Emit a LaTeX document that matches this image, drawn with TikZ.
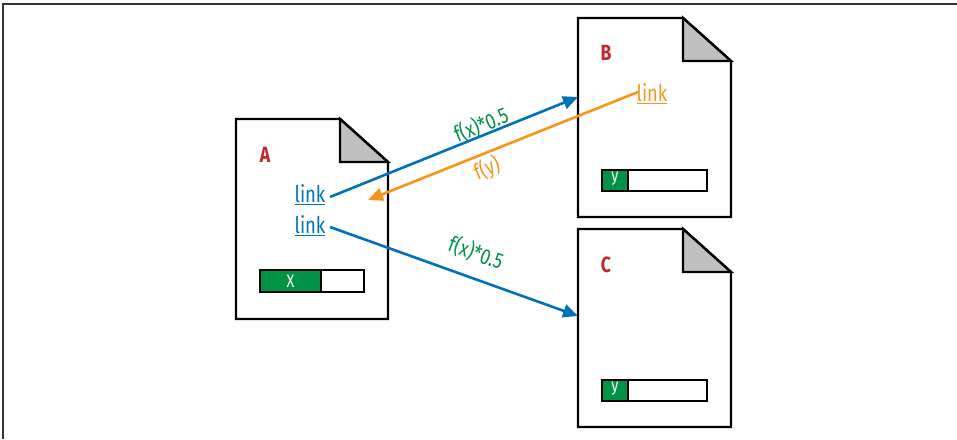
\documentclass[tikz,border=0pt]{standalone}
\usepackage{fontspec}
\setmainfont{Fira Sans}[FakeStretch=0.8]
\usetikzlibrary{arrows.meta}
\definecolor{lblue}{RGB}{0,114,188}
\definecolor{lorange}{RGB}{247,148,29}
\definecolor{lgreen}{RGB}{0,146,69}
\definecolor{lred}{RGB}{193,39,45}
\definecolor{lfold}{RGB}{192,192,192}
\tikzset{
  docline/.style={line width=2.4pt, line join=miter, draw=black},
  doclabel/.style={text=lred, font=\fontsize{22}{22}\selectfont\bfseries},
  linktext/.style={font=\fontsize{23}{23}\selectfont, inner sep=1pt},
  flow/.style={line width=2.6pt, -{Triangle[length=15pt,width=13pt]}},
  flowlabel/.style={font=\fontsize{22}{22}\selectfont, inner sep=1pt},
  barbox/.style={line width=2pt, draw=black, fill=white},
  barfill/.style={line width=2pt, draw=black, fill=lgreen},
  bartext/.style={text=white, font=\fontsize{18}{18}\selectfont, inner sep=0pt},
}
\newcommand\docpage[4]{% left, bottom, right, top
  \filldraw[docline, fill=white] (#1,#2) -- (#1,#4) -- (#3-48,#4) -- (#3,#4-43) -- (#3,#2) -- cycle;
  \filldraw[docline, fill=lfold] (#3-48,#4) -- (#3-48,#4-43) -- (#3,#4-43) -- cycle;
}
\begin{document}
\begin{tikzpicture}[x=1pt,y=1pt]
\useasboundingbox (0,0) rectangle (957,439);
\fill[white] (0,0) rectangle (957,439);
\draw[line width=1.2pt, draw=black!80] (3,0) -- (3,435) -- (957,435);

% documents
\docpage{236}{120}{388}{320}
\docpage{578}{222}{731}{421}
\docpage{578}{12}{731}{210}

\node[doclabel] (la) at (265,284) {A};
\node[doclabel] (lb) at (606,386) {B};
\node[doclabel] (lc) at (606,174) {C};

% progress bars
\filldraw[barbox] (260,147) rectangle (364,169);
\filldraw[barfill] (260,147) rectangle (321,169);
\node[bartext] (bx) at (290.5,158) {X};
\filldraw[barbox] (602,248) rectangle (707,269);
\filldraw[barfill] (602,248) rectangle (628,269);
\node[bartext] (by1) at (615,260) {y};
\filldraw[barbox] (602,38) rectangle (707,59);
\filldraw[barfill] (602,38) rectangle (628,59);
\node[bartext] (by2) at (615,50) {y};

% links
\node[linktext, text=lblue] (linkA1) at (310,244) {\underline{link}};
\node[linktext, text=lblue] (linkA2) at (310,213) {\underline{link}};
\node[linktext, text=lorange] (linkB) at (652,345) {\underline{link}};

\coordinate (a1s) at (330,242);
\coordinate (b1e) at (578,342);
\coordinate (bos) at (638,347);
\coordinate (aoe) at (368,239);
\coordinate (a2s) at (330,212);
\coordinate (c1e) at (578,123);

\draw[flow, lblue] (a1s) -- (b1e);
\draw[flow, lorange] (bos) -- (aoe);
\draw[flow, lblue] (a2s) -- (c1e);

\node[flowlabel, text=lgreen, rotate=22] (f1) at (481,314) {f(x)*0.5};
\node[flowlabel, text=lorange, rotate=22] (f2) at (487,270) {f(y)};
\node[flowlabel, text=lgreen, rotate=-20] (f3) at (476,186) {f(x)*0.5};
\end{tikzpicture}
\end{document}
